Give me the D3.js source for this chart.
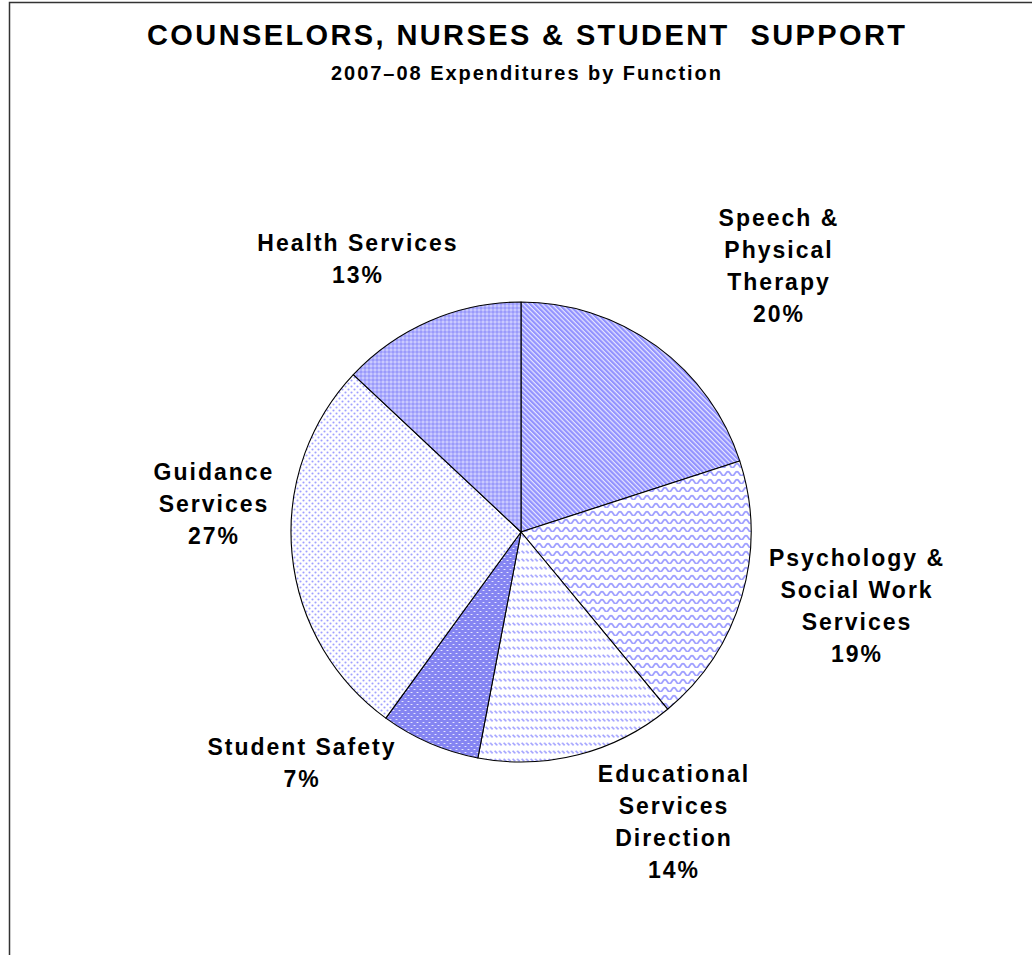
<!DOCTYPE html>
<html>
<head>
<meta charset="utf-8">
<script src="https://cdn.jsdelivr.net/npm/d3@7/dist/d3.min.js"></script>
<style>
  html, body { margin: 0; padding: 0; background: #fff; }
  svg { display: block; }
  text { font-family: "Liberation Sans", Arial, sans-serif; font-weight: bold; fill: #000; white-space: pre; }
</style>
</head>
<body>
<svg id="chart" width="1032" height="955"></svg>
<script>
// Expenditure shares by function (percent), clockwise from 12 o'clock
const categories = [
  "Speech & Physical Therapy",
  "Psychology & Social Work Services",
  "Educational Services Direction",
  "Student Safety",
  "Guidance Services",
  "Health Services"
];
const shares = [20, 19, 14, 7, 27, 13];
const labelLines = [
  ["Speech &", "Physical", "Therapy"],
  ["Psychology &", "Social Work", "Services"],
  ["Educational", "Services", "Direction"],
  ["Student Safety"],
  ["Guidance", "Services"],
  ["Health Services"]
];
const patternIds = ["pDiag", "pWave", "pDash", "pBrick", "pDots", "pGrid"];

const title = "COUNSELORS, NURSES & STUDENT  SUPPORT";
const subtitle = "2007\u201308 Expenditures by Function";

// Layout
const W = 1032, H = 955;
const cx = 521, cy = 532, radius = 230;
const lineH = 32;
// label block centres, relative to the pie centre
const labelOffsets = [[257, -266], [335, 74], [152, 290], [-220, 231], [-308, -28], [-164, -273]];

const svg = d3.select("#chart");
const defs = svg.append("defs");
const blue = "#9292ff";

// Diagonal stripes (down to the right)
{
  const p = defs.append("pattern").attr("id", "pDiag").attr("patternUnits", "userSpaceOnUse")
    .attr("width", 3.4).attr("height", 3.4).attr("patternTransform", "rotate(-45)");
  p.append("rect").attr("width", 3.4).attr("height", 3.4).attr("fill", "#e6e6ff");
  p.append("rect").attr("width", 2.2).attr("height", 3.4).attr("fill", blue);
}
// Horizontal waves
{
  const p = defs.append("pattern").attr("id", "pWave").attr("patternUnits", "userSpaceOnUse")
    .attr("width", 9).attr("height", 8);
  p.append("rect").attr("width", 9).attr("height", 8).attr("fill", "#fff");
  p.append("path").attr("d", "M-2.25,5.6 Q0,1.6 2.25,5.6 T6.75,5.6 T11.25,5.6")
    .attr("fill", "none").attr("stroke", "#a0a0ff").attr("stroke-width", 1.9);
}
// Short diagonal dashes in rows
{
  const p = defs.append("pattern").attr("id", "pDash").attr("patternUnits", "userSpaceOnUse")
    .attr("width", 4.5).attr("height", 8);
  p.append("rect").attr("width", 4.5).attr("height", 8).attr("fill", "#fff");
  p.append("line").attr("x1", 0.6).attr("y1", 2.8).attr("x2", 3.2).attr("y2", 5.4)
    .attr("stroke", "#a0a0ff").attr("stroke-width", 1.6);
}
// Solid blue with small white dashes
{
  const p = defs.append("pattern").attr("id", "pBrick").attr("patternUnits", "userSpaceOnUse")
    .attr("width", 6).attr("height", 6);
  p.append("rect").attr("width", 6).attr("height", 6).attr("fill", "#8585f2");
  p.append("ellipse").attr("cx", 1.5).attr("cy", 1.5).attr("rx", 1.2).attr("ry", 0.6).attr("fill", "#eef");
  p.append("ellipse").attr("cx", 4.5).attr("cy", 4.5).attr("rx", 1.2).attr("ry", 0.6).attr("fill", "#eef");
}
// Sparse dots
{
  const p = defs.append("pattern").attr("id", "pDots").attr("patternUnits", "userSpaceOnUse")
    .attr("width", 6).attr("height", 6);
  p.append("rect").attr("width", 6).attr("height", 6).attr("fill", "#fff");
  p.append("circle").attr("cx", 1.5).attr("cy", 1.5).attr("r", 1.05).attr("fill", "#a0a0ff");
  p.append("circle").attr("cx", 4.5).attr("cy", 4.5).attr("r", 1.05).attr("fill", "#a0a0ff");
}
// Plaid grid
{
  const p = defs.append("pattern").attr("id", "pGrid").attr("patternUnits", "userSpaceOnUse")
    .attr("width", 4).attr("height", 4);
  p.append("rect").attr("width", 4).attr("height", 4).attr("fill", "#9a9afb");
  p.append("rect").attr("x", 0).attr("y", 1.5).attr("width", 4).attr("height", 1).attr("fill", "#c4c4ff");
  p.append("rect").attr("x", 1.5).attr("y", 0).attr("width", 1).attr("height", 4).attr("fill", "#c4c4ff");
  p.append("rect").attr("x", 1.5).attr("y", 1.5).attr("width", 1).attr("height", 1).attr("fill", "#fff");
}

// Frame (left and top edges)
svg.append("path")
  .attr("d", "M9.5," + H + " V2.5 H" + W)
  .attr("fill", "none").attr("stroke", "#333").attr("stroke-width", 1.5);

// Titles
svg.append("text")
  .attr("x", 526).attr("y", 45)
  .attr("text-anchor", "middle")
  .attr("font-size", 29)
  .attr("textLength", 758).attr("lengthAdjust", "spacing")
  .text(title);
svg.append("text")
  .attr("x", 526).attr("y", 80)
  .attr("text-anchor", "middle")
  .attr("font-size", 20)
  .attr("textLength", 390).attr("lengthAdjust", "spacing")
  .text(subtitle);

// Pie
const pie = d3.pie().sort(null).value(d => d)(shares);
const arc = d3.arc().innerRadius(0).outerRadius(radius);

const g = svg.append("g").attr("transform", `translate(${cx},${cy})`);
g.selectAll("path.slice")
  .data(pie)
  .join("path")
  .attr("class", "slice")
  .attr("d", arc)
  .attr("fill", (d, i) => `url(#${patternIds[i]})`)
  .attr("stroke", "#000")
  .attr("stroke-width", 1.1)
  .attr("stroke-linejoin", "round");

// Labels
const labels = g.selectAll("g.label")
  .data(pie)
  .join("g")
  .attr("class", "label")
  .attr("transform", (d, i) => `translate(${labelOffsets[i][0]},${labelOffsets[i][1]})`);

labels.each(function (d, i) {
  const lines = labelLines[i].concat([d.data + "%"]);
  const n = lines.length;
  const el = d3.select(this);
  lines.forEach((t, k) => {
    el.append("text")
      .attr("x", 1)
      .attr("y", (k - (n - 1) / 2) * lineH + 8)
      .attr("text-anchor", "middle")
      .attr("font-size", 23)
      .attr("letter-spacing", 2)
      .text(t);
  });
});
</script>
</body>
</html>
